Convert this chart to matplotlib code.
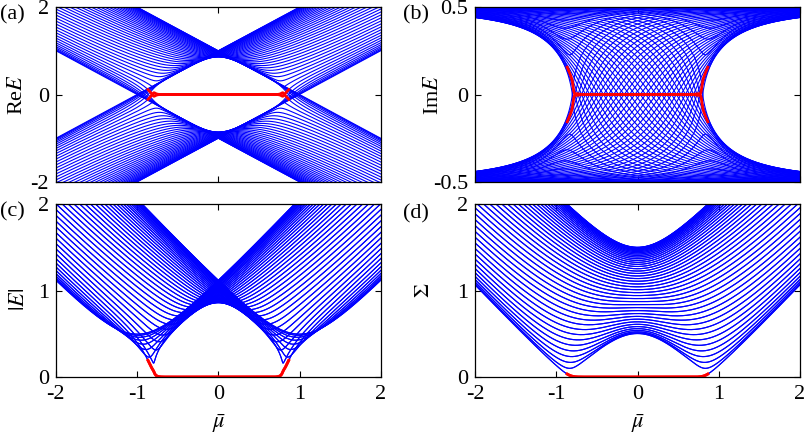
import numpy as np
import matplotlib
matplotlib.use('Agg')
import matplotlib.pyplot as plt

# ---- model parameters ----
N_SITES = 45          # chain length
HOPPING = 0.5         # t
PAIRING = 0.5         # Delta
GAMMA = 0.5           # imaginary part of the chemical potential
MU_RANGE = (-2.0, 2.0)
MU_STEPS = 801
ZERO_MODE_LIMIT = 0.866   # |mu_bar| range where edge modes are shown in red

X_TICKS = [-2, -1, 0, 1, 2]
X_TICKS_TOP = [-2, 0, 2]
YTICKS_A = [-2, 0, 2]
YTICKS_B = [-0.5, 0, 0.5]
YTICK_LABELS_B = ['-0.5', '0', '0.5']
YTICKS_CD = [0, 1, 2]
PANEL_LABELS = ['(a)', '(b)', '(c)', '(d)']
Y_LABELS = ['Re$E$', 'Im$E$', '$|E|$', r'$\Sigma$']

plt.rcParams['font.family'] = ['Liberation Serif', 'DejaVu Serif']
plt.rcParams['mathtext.fontset'] = 'stix'
plt.rcParams['axes.unicode_minus'] = False


def bdg(mu):
    n = N_SITES
    T = np.eye(n, k=1) + np.eye(n, k=-1)
    D = np.eye(n, k=1) - np.eye(n, k=-1)
    A = -mu * np.eye(n) - HOPPING * T
    return np.block([[A, PAIRING * D], [-PAIRING * D, -A]])


def match(pred, new):
    n = len(pred)
    cost = np.abs(pred[:, None] - new[None, :])
    idx = np.argmin(cost, axis=1)
    if len(np.unique(idx)) == n:
        return new[idx]
    assigned = np.full(n, -1)
    used = np.zeros(n, bool)
    done = np.zeros(n, bool)
    cnt = 0
    for f in np.argsort(cost, axis=None):
        r, c = divmod(int(f), n)
        if done[r] or used[c]:
            continue
        assigned[r] = c
        done[r] = True
        used[c] = True
        cnt += 1
        if cnt == n:
            break
    return new[assigned]


mu_bar = np.linspace(MU_RANGE[0], MU_RANGE[1], MU_STEPS)
raw = []
svals = []
for m in mu_bar:
    H = bdg(m + 1j * GAMMA)
    raw.append(np.linalg.eigvals(H))
    svals.append(np.sort(np.linalg.svd(H, compute_uv=False)))
raw = np.array(raw)
svals = np.array(svals)

# follow each eigenvalue branch continuously in mu_bar
eigs = np.empty_like(raw)
eigs[0] = np.sort(raw[0])
for i in range(1, len(mu_bar)):
    pred = eigs[i - 1] if i < 2 else 2 * eigs[i - 1] - eigs[i - 2]
    eigs[i] = match(pred, raw[i])

# red: the two branches that are zero modes at mu_bar = 0
center = np.argmin(np.abs(mu_bar))
zm_idx = np.argsort(np.abs(eigs[center]))[:2]
mask = np.abs(mu_bar) <= ZERO_MODE_LIMIT
mu_r = mu_bar[mask]
zm = eigs[mask][:, zm_idx]
sv_r = svals[mask, :2]

fig = plt.figure(figsize=(8.06, 4.38), dpi=100)
W, Hh = 806.0, 438.0
boxes = [
    (55.7, 7, 381, 182),
    (475, 7, 800, 182),
    (55.7, 204, 381, 377),
    (475, 204, 800, 377),
]
axes = []
for (l, t, r, b) in boxes:
    axes.append(fig.add_axes([l / W, 1 - b / Hh, (r - l) / W, (b - t) / Hh]))

blue = (0, 0, 1)
red = (1, 0, 0)
lw_b = 0.8
lw_r = 2.0

ax = axes[0]
ax.plot(mu_bar, eigs.real, color=blue, lw=lw_b)
ax.plot(mu_r, zm.real, color=red, lw=lw_r)
ax.set_ylim(-2, 2)
ax.set_yticks(YTICKS_A)

ax = axes[1]
ax.plot(mu_bar, eigs.imag, color=blue, lw=lw_b)
ax.plot(mu_r, zm.imag, color=red, lw=lw_r)
ax.set_ylim(-0.5, 0.5)
ax.set_yticks(YTICKS_B)
ax.set_yticklabels(YTICK_LABELS_B)

ax = axes[2]
ax.plot(mu_bar, np.abs(eigs), color=blue, lw=lw_b)
ax.plot(mu_r, np.abs(zm), color=red, lw=lw_r)
ax.set_ylim(0, 2)
ax.set_yticks(YTICKS_CD)

ax = axes[3]
ax.plot(mu_bar, svals, color=blue, lw=lw_b)
ax.plot(mu_r, sv_r, color=red, lw=lw_r)
ax.set_ylim(0, 2)
ax.set_yticks(YTICKS_CD)

ylabel_x = [-0.116, -0.129, -0.11, -0.154]
ylabel_y = [0.5, 0.5, 0.45, 0.5]
for i, ax in enumerate(axes):
    ax.set_xlim(-2, 2)
    if i < 2:
        ax.set_xticks(X_TICKS_TOP)
        ax.set_xticklabels([])
    else:
        ax.set_xticks(X_TICKS)
        ax.set_xlabel(r'$\bar{\mu}$', fontsize=16)
        ax.xaxis.set_label_coords(0.5, -0.2)
    ax.tick_params(direction='in', length=4, width=0.8, top=True, right=True,
                   labelsize=16)
    ax.tick_params(axis='x', pad=6)
    ax.tick_params(axis='y', pad=5)
    for s in ax.spines.values():
        s.set_linewidth(0.9)
    ax.set_ylabel(Y_LABELS[i], fontsize=16, va='center')
    ax.yaxis.set_label_coords(ylabel_x[i], ylabel_y[i])

label_pos = [(0, 15), (403, 15), (0, 212), (403, 214)]
for lab, (x, y) in zip(PANEL_LABELS, label_pos):
    fig.text(x / W, 1 - y / Hh, lab, fontsize=16, va='center', ha='left')

fig.savefig('out.png', dpi=100)
